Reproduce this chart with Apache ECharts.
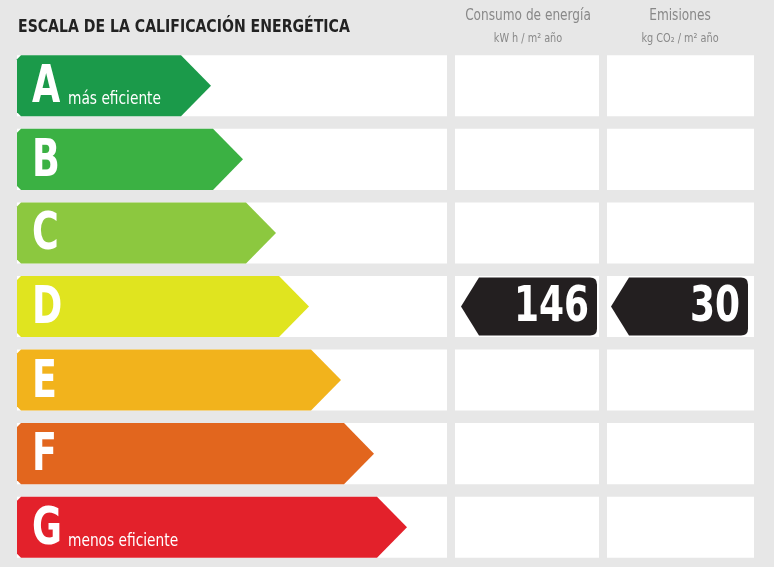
<!DOCTYPE html>
<html><head><meta charset="utf-8">
<script src="https://cdn.jsdelivr.net/npm/echarts@6/dist/echarts.min.js"></script>
<style>html,body{margin:0;padding:0;background:#e7e7e7}#c{width:774px;height:567px}</style>
</head><body><div id="c"></div>
<script>
var grades = ['A','B','C','D','E','F','G'];
var gradeNotes = ['más eficiente','','','','','','menos eficiente'];
var barEnds = [211,243,276,309,341,374,407];
var colors = ['#1b9a4a','#3bb143','#8cc83f','#e0e41f','#f2b31c','#e2661e','#e3212b'];
var consumo = [null,null,null,146,null,null,null];
var emisiones = [null,null,null,30,null,null,null];
var F = "'Liberation Sans Narrow','DejaVu Sans Condensed',sans-serif";

var chart = echarts.init(document.getElementById('c'));
function rowBox(api){
  var y = api.coord([0, api.value(0)])[1];
  var bw = api.size([0,1])[1];
  return {y:y, h: bw*0.83};
}
chart.setOption({
  backgroundColor:'#e7e7e7',
  animation:false,
  grid:{left:0,right:0,top:49,bottom:3},
  xAxis:{type:'value',min:0,max:774,show:false},
  yAxis:{type:'category',data:grades,inverse:true,show:false},
  graphic:[
    {type:'text',x:18,y:27,scaleX:0.87,style:{text:'ESCALA DE LA CALIFICACIÓN ENERGÉTICA',font:"bold 18px "+F,fill:'#222',verticalAlign:'middle'}},
    {type:'text',x:528,y:16,scaleX:0.9,style:{text:'Consumo de energía',font:"15px "+F,fill:'#888',align:'center',verticalAlign:'middle'}},
    {type:'text',x:528,y:39,scaleX:0.9,style:{text:'kW h / m² año',font:"12px "+F,fill:'#888',align:'center',verticalAlign:'middle'}},
    {type:'text',x:680,y:16,scaleX:0.9,style:{text:'Emisiones',font:"15px "+F,fill:'#888',align:'center',verticalAlign:'middle'}},
    {type:'text',x:680,y:39,scaleX:0.9,style:{text:'kg CO₂ / m² año',font:"12px "+F,fill:'#888',align:'center',verticalAlign:'middle'}}
  ],
  series:[
    {type:'custom',data:grades.map(function(g,i){return [i,barEnds[i]];}),
     encode:{y:0,x:1},
     renderItem:function(p,api){
       var i=api.value(0), b=rowBox(api), top=b.y-b.h/2, bot=b.y+b.h/2;
       var x0=api.coord([17,i])[0], xe=api.coord([api.value(1),i])[0];
       var ch=[];
       [[17,447],[455,599],[607,754]].forEach(function(r){
         var a=api.coord([r[0],i])[0], c=api.coord([r[1],i])[0];
         ch.push({type:'rect',shape:{x:a,y:top,width:c-a,height:b.h},style:{fill:'#fff'}});
       });
       ch.push({type:'polygon',shape:{points:[[x0+4,top],[xe-30,top],[xe,b.y],[xe-30,bot],[x0+4,bot],[x0,bot-4],[x0,top+4]]},style:{fill:colors[i]}});
       ch.push({type:'text',x:x0+15,y:b.y+3,scaleX:0.78,style:{text:grades[i],font:"bold 52px "+F,fill:'#fff',verticalAlign:'middle'}});
       if(gradeNotes[i]) ch.push({type:'text',x:x0+51,y:bot-8,scaleX:0.9,style:{text:gradeNotes[i],font:"17px "+F,fill:'#fff',verticalAlign:'bottom'}});
       return {type:'group',children:ch};
     }},
    {type:'custom',data:consumo.map(function(v,i){return v==null?[i,'-']:[i,v];}),encode:{y:0},
     renderItem:function(p,api){ return marker(api,461,597); }},
    {type:'custom',data:emisiones.map(function(v,i){return v==null?[i,'-']:[i,v];}),encode:{y:0},
     renderItem:function(p,api){ return marker(api,611,748); }}
  ]
});
function marker(api,l,r){
  var v=api.value(1); if(isNaN(v)) return null;
  var i=api.value(0), y=api.coord([0,i])[1], h=api.size([0,1])[1]*0.79, top=y-h/2, bot=y+h/2;
  var a=api.coord([l,i])[0], c=api.coord([r,i])[0], rr=7;
  return {type:'group',children:[
    {type:'path',shape:{pathData:'M'+a+' '+y+' L'+(a+18)+' '+top+' L'+(c-rr)+' '+top+' Q'+c+' '+top+' '+c+' '+(top+rr)+' L'+c+' '+(bot-rr)+' Q'+c+' '+bot+' '+(c-rr)+' '+bot+' L'+(a+18)+' '+bot+' Z'},style:{fill:'#231f20'}},
    {type:'text',x:c-8,y:y+2,scaleX:0.8,style:{text:String(v),font:"bold 50px "+F,fill:'#fff',align:'right',verticalAlign:'middle'}}
  ]};
}
</script></body></html>
